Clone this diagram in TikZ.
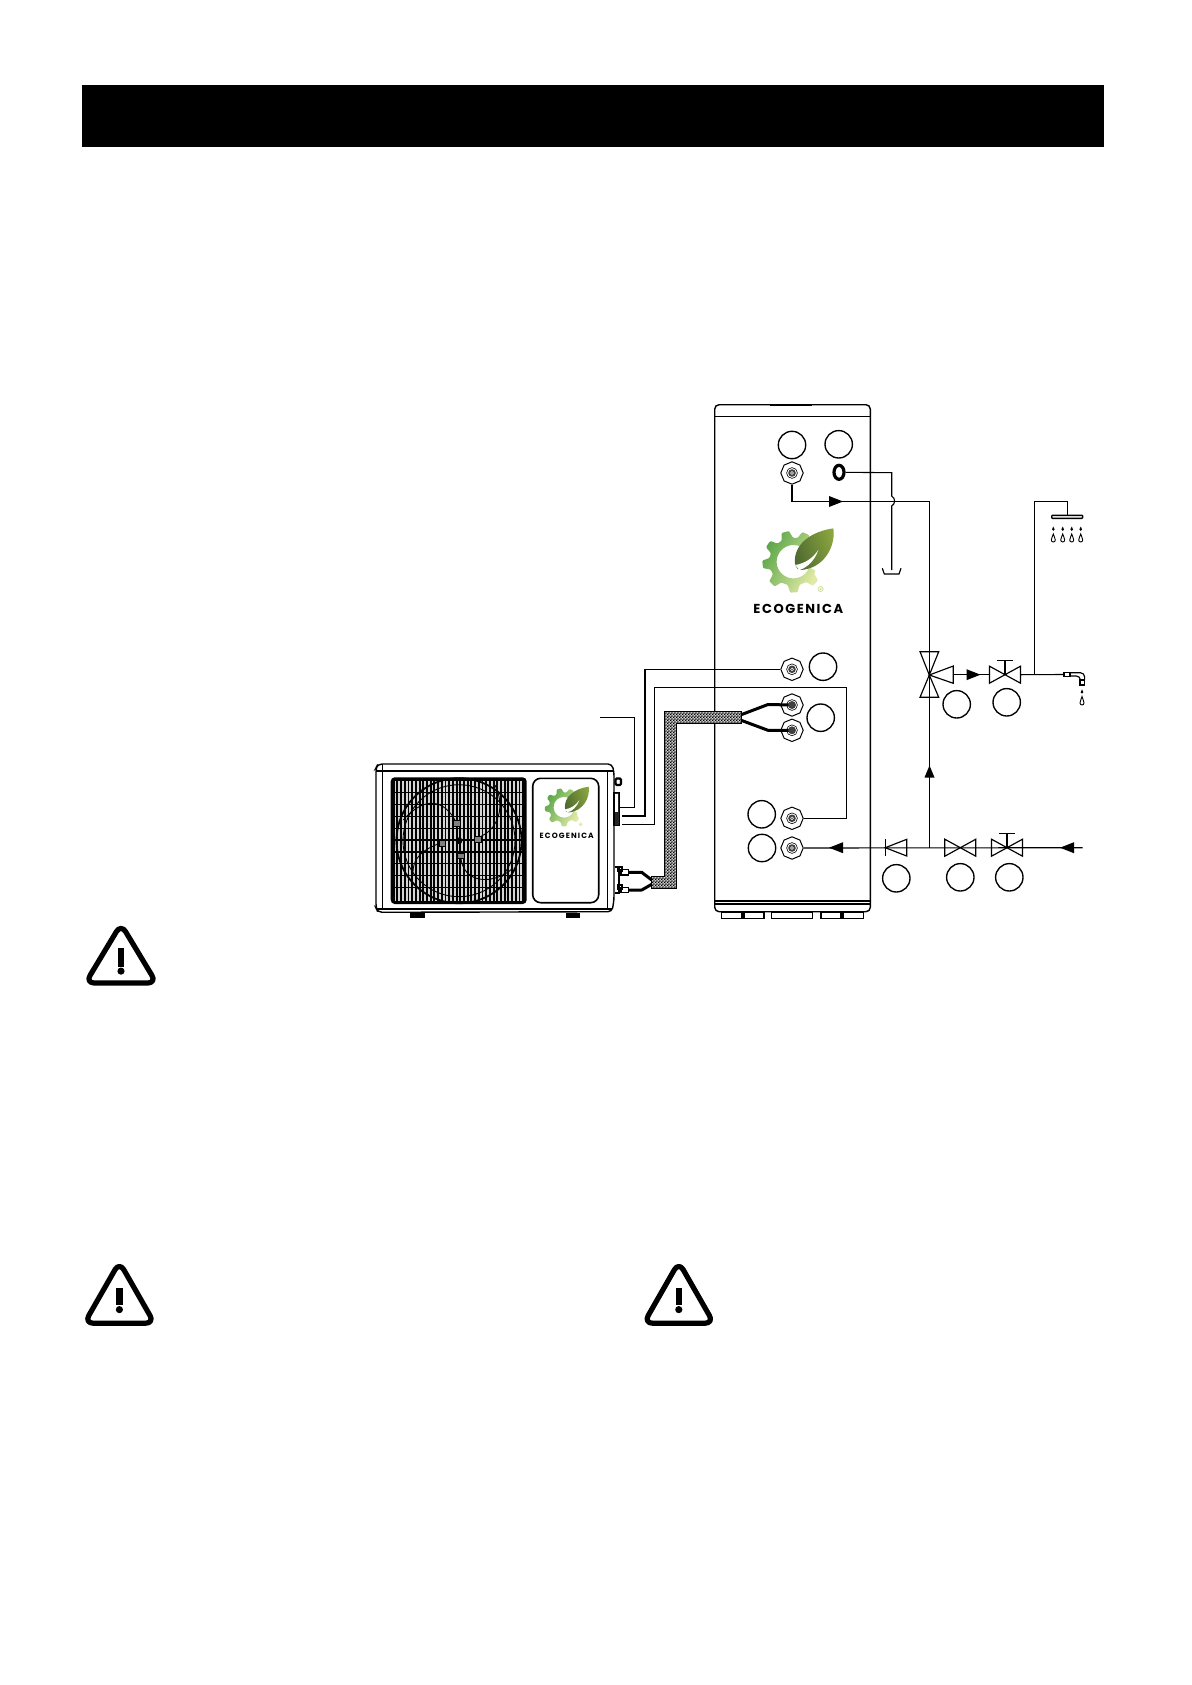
\documentclass[tikz,border=0pt]{standalone}
\usepackage{fontspec}
\setmainfont{Liberation Sans}
\newfontfamily\logofont[LetterSpace=12]{Poppins}
\newfontfamily\logofontsmall[LetterSpace=15]{Poppins}
\usetikzlibrary{shapes.geometric,patterns}
\pgfdeclarepatternformonly{finecheck}{\pgfqpoint{0pt}{0pt}}{\pgfqpoint{1.6pt}{1.6pt}}{\pgfqpoint{1.6pt}{1.6pt}}{%
  \pgfpathrectangle{\pgfqpoint{0pt}{0pt}}{\pgfqpoint{.9pt}{.9pt}}%
  \pgfpathrectangle{\pgfqpoint{.8pt}{.8pt}}{\pgfqpoint{.9pt}{.9pt}}%
  \pgfusepath{fill}}
\definecolor{gearA}{HTML}{5AA548}
\definecolor{gearB}{HTML}{E2EBA6}
\definecolor{leafA}{HTML}{4E6A30}
\definecolor{leafB}{HTML}{8AA53E}
\definecolor{slat}{HTML}{D4D4D4}
\tikzset{
  line/.style={line width=0.58pt,black},
  pipe/.style={line width=0.55pt,black,line join=miter},
  callout/.style={circle,draw=black,line width=0.68pt,minimum size=13.7pt,inner sep=0pt},
  fitting/.style={regular polygon,regular polygon sides=8,shape border rotate=22.5,draw=black,line width=0.5pt,
    minimum size=11.2pt,inner sep=0pt,fill=white,
    path picture={\fill[black!75] (path picture bounding box.center) circle (1.9pt);
      \fill[white] (path picture bounding box.center) circle (0.9pt);
      \fill[black!75] (path picture bounding box.center) circle (0.45pt);
      \draw[line width=0.3pt] (path picture bounding box.center) circle (2.7pt);}},
  hose/.style={line width=1.5pt,black,line join=round},
  flow/.style={fill=black},
}
\newcommand\arrR[2]{\fill[flow] (#1-7,#2-5.5) -- (#1+7,#2) -- (#1-7,#2+5.5) -- cycle;}
\newcommand\arrL[2]{\fill[flow] (#1+7,#2-5.5) -- (#1-7,#2) -- (#1+7,#2+5.5) -- cycle;}
\newcommand\arrU[2]{\fill[flow] (#1-5,#2+6) -- (#1,#2-6) -- (#1+5,#2+6) -- cycle;}
\newcommand\twoway[2]{\draw[line] (#1-15.5,#2-8.5) -- (#1+15.5,#2+8.5) -- (#1+15.5,#2-8.5) -- (#1-15.5,#2+8.5) -- cycle;}
\newcommand\stemT[2]{\draw[line] (#1,#2) -- (#1,#2-14) (#1-8,#2-14) -- (#1+8,#2-14);}
\newcommand\dropS[3]{% x, y top, height
  \draw[line width=0.45pt] (#1,#2) .. controls (#1+0.5,#2+#3*.3) and (#1+2,#2+#3*.5) .. (#1+2,#2+#3-2)
    arc[start angle=0,end angle=180,radius=2] .. controls (#1-2,#2+#3*.5) and (#1-.5,#2+#3*.3) .. (#1,#2) -- cycle;}
\newcommand\dropT[2]{\fill (#1,#2) .. controls (#1+.6,#2+1.5) and (#1+1.3,#2+2.2) .. (#1+1.3,#2+3) arc[start angle=0,end angle=180,radius=1.3] .. controls (#1-1.3,#2+2.2) and (#1-.6,#2+1.5) .. (#1,#2) -- cycle;}
\newcommand\warnsign[6]{% apex x, top y, half width, bottom y, exclam top, exclam bottom
  \draw[line width=2.6pt,line join=round,rounded corners=4.4pt] (#1,#2) -- (#1+#3,#4) -- (#1-#3,#4) -- cycle;
  \fill (#1-3.2,#5) rectangle (#1+3.2,#6);
  \fill (#1,#6+4.6) circle[radius=3.6];}
% logo: cx, cy, unit
\newcommand\ecologo[3]{%
\begin{scope}[shift={(#1,#2)},x=#3,y=#3]
  \shade[left color=gearA,middle color=gearA!70!gearB,right color=gearB,shading angle=60,rounded corners=0.5pt]
    (52:72) \foreach \a in {66,105,145,185,226,271,316}{ -- (\a-14:72) -- (\a-7:93) -- (\a+7:93) -- (\a+14:72) }
    -- (338:72) -- (340:50) arc[start angle=340,end angle=52,radius=50] -- cycle;
  \shade[left color=leafA,right color=leafB,shading angle=110]
    (5,-5) .. controls (0,50) and (50,90) .. (120,100) .. controls (128,50) and (95,-20) .. (22,-25)
    .. controls (15,-25) and (8,-20) .. (5,-5) -- cycle;
  \fill[white] (6,-10) .. controls (35,-5) and (58,10) .. (75,35) .. controls (65,5) and (42,-18) .. (18,-25) -- cycle;
  \fill[gearB!85!gearA] (82,-82) circle (9);
  \fill[white] (82,-82) circle (6);
  \fill[gearB!85!gearA] (82,-82) circle (3.5);
\end{scope}}
\begin{document}
\begin{tikzpicture}[x=0.5pt,y=-0.5pt]
\useasboundingbox (0,0) rectangle (1192,1685);
\fill[white] (0,0) rectangle (1192,1685);
% header bar
\fill[black] (82,85) rectangle (1104,147);

% === tank ===
\draw[line,line width=0.7pt] (714.7,900) -- (714.7,410) [rounded corners=2.2pt] -- (714.7,404.7) -- (870.3,404.7) [sharp corners] -- (870.3,410) -- (870.3,900);
\draw[line,line width=0.7pt] (714.7,416.3) -- (870.3,416.3);
\draw[line width=1.2pt] (770,404.7) -- (812,404.7);
\draw[line,line width=0.85pt] (714.7,900.7) -- (870.3,900.7);
\draw[line] (714.7,904) -- (870.3,904);
\draw[line,line width=0.7pt,rounded corners=2.2pt] (714.7,900) -- (714.7,911.7) -- (870.3,911.7) -- (870.3,900);
\draw[line,fill=white] (721.7,912.4) rectangle (764,918.3);
\draw[line] (742,912.4) -- (742,918.3) (744,912.4) -- (744,918.3);
\draw[line,fill=white] (771.7,912.4) rectangle (812.7,918.3);
\draw[line,fill=white] (821,912.4) rectangle (863.3,918.3);
\draw[line] (841,912.4) -- (841,918.3) (843,912.4) -- (843,918.3);

\ecologo{793.3}{561.7}{0.1667pt}
\node[inner sep=0pt,font=\logofont\bfseries\fontsize{6.5}{7}\selectfont] (brandA) at (798.3,608.7) {ECOGENICA};

% callouts
\node[callout] (c1) at (792,445) {};
\node[callout] (c2) at (838.7,444.3) {};
\node[callout] (c3) at (823,666.7) {};
\node[callout] (c4) at (820.7,717.7) {};
\node[callout] (c5) at (761.7,814.3) {};
\node[callout] (c6) at (762,848) {};
\node[callout] (c7) at (956.7,704.3) {};
\node[callout] (c8) at (1006.7,702.3) {};
\node[callout] (c9) at (896.3,878.3) {};
\node[callout] (c10) at (960.3,877.3) {};
\node[callout] (c11) at (1009.3,877.3) {};

% outdoor unit
\draw[line,line width=0.7pt,rounded corners=2pt] (376,768) -- (378,764) -- (612,764) -- (614,772) -- (614,900) -- (612,911.7) -- (378,912.3) -- (376,908) -- cycle;
\draw[line width=1.1pt] (376,770.7) -- (613,770.7);
\draw[line] (382.3,764) -- (382.3,908) (607.7,770) -- (607.7,908);
\draw[line] (376,909) -- (612,909);
\fill (410,913) rectangle (425,918.3);
\fill (565.7,913) rectangle (580,918.3);
\fill[rounded corners=2pt] (390.7,777.3) rectangle (526.7,904);
\foreach \sx in {395.5,399.2,...,523}{\draw[slat,line width=0.9pt] (\sx,781) -- (\sx,901);}
\foreach \sy in {792.3,804.3,816.3,828.2,840,851.8,863.5,875.5,887.7}{\draw[black,line width=0.7pt] (391,\sy) -- (526,\sy);}
\draw[line width=0.9pt,black] (459,840.7) circle (62.5);
\draw[line width=0.45pt,black] (459,840.7) circle (56);
\begin{scope}[line width=0.45pt,black]
\draw (403.3,820) .. controls (425,795) and (445,800) .. (456,822);
\draw (477,838) .. controls (500,830) and (505,805) .. (495,785);
\draw (442.7,842.3) .. controls (420,850) and (412,860) .. (413,875);
\draw (460.7,855.7) .. controls (462,885) and (495,885) .. (513,868);
\draw[fill=slat!60!black] (453,820) rectangle (460,826);
\draw[fill=slat!60!black] (474,836) rectangle (481,842);
\draw[fill=slat!60!black] (439,840) rectangle (445,846);
\draw[fill=slat!60!black] (457,853) rectangle (464,858);
\end{scope}
\fill (459,840.7) circle (3.4);
\draw[line width=0.8pt,rounded corners=4pt] (532.7,778.3) rectangle (598.7,902.7);
\ecologo{563.9}{807.3}{0.1033pt}
\node[inner sep=0pt,font=\logofontsmall\bfseries\fontsize{3.8}{4}\selectfont] (brandB) at (566.7,835.7) {ECOGENICA};

% unit side parts
\fill[black!85] (613.5,792.3) rectangle (619.5,825.7);
\fill[white] (615,794) rectangle (618,812);
\draw[line] (614,792.3) rectangle (619.5,825.7);
\draw[line width=1.1pt,rounded corners=0.6pt] (615.5,778.5) rectangle (621,785);
\draw[line width=0.9pt] (615,867) -- (619,867) -- (619,893) -- (615,893);
\draw[line width=0.8pt,fill=white] (621,869.5) rectangle (628.3,875);
\draw[line width=0.8pt,fill=white] (621,887.5) rectangle (628.3,892.5);
\draw[line width=1pt] (618,866.5) rectangle (622,871);
\draw[line width=1pt] (618,884.5) rectangle (622,889);

% connection points
\node[fitting] (f1) at (792,473) {};
\node[ellipse,draw=black,line width=1.6pt,minimum width=5pt,minimum height=7pt,inner sep=0pt] (ring) at (839,472.3) {};
\node[fitting] (f2) at (792,669.3) {};
\node[fitting] (f3) at (792,705) {};
\node[fitting] (f4) at (792,730.3) {};
\node[fitting] (f5) at (792,818.3) {};
\node[fitting] (f6) at (792,848) {};

% named points
\coordinate (mixer) at (929.5,675);
\coordinate (valveA) at (1005,674.5);
\coordinate (tee) at (929.5,847.7);
\coordinate (inlet) at (1082.7,847.7);
\coordinate (hotCorner) at (929.5,501.5);
\coordinate (sideA) at (619.3,807.3);
\coordinate (sideB) at (621.7,816);
\coordinate (sideC) at (621.7,824.3);
\coordinate (cable) at (600.3,717.3);
\coordinate (branch) at (1034.3,674.5);
\coordinate (faucet) at (1064,674.5);
\coordinate (showerTop) at (1067.3,515.3);

% wiring
\draw[pipe] (cable) -| (634.3,807.3) -- (sideA);
\draw[pipe] (f2.west) -| (645,816) -- (sideB);
\draw[pipe] (f5.east) -| (846.3,687.7) -| (654.3,824.3) -- (sideC);

% hose band
\fill[black!20] (741.7,711.7) -- (664.3,711.7) -- (664.3,876) -- (651,876) -- (651,888.3) -- (676.7,888.3) -- (676.7,723.3) -- (741.7,723.3) -- cycle;
\fill[pattern=finecheck,pattern color=black] (741.7,711.7) -- (664.3,711.7) -- (664.3,876) -- (651,876) -- (651,888.3) -- (676.7,888.3) -- (676.7,723.3) -- (741.7,723.3) -- cycle;
\draw[line,line width=0.45pt] (741.7,711.7) -- (664.3,711.7) -- (664.3,876) -- (651,876) -- (651,888.3) -- (676.7,888.3) -- (676.7,723.3) -- (741.7,723.3) -- cycle;
\draw[hose] (741.7,714.5) -- (768,704.5) -- (f3.center);
\draw[hose] (741.7,720.5) -- (768,730.3) -- (f4.center);
\draw[hose] (651.7,880) -- (641.7,872.3) -- (628.3,872.3);
\draw[hose] (651.7,884.3) -- (641.7,890) -- (628.3,890);
\fill[black!75] (792,705) circle (1.9pt);
\fill[black!75] (792,730.3) circle (1.9pt);

% hot water
\draw[pipe] (f1.south) |- (hotCorner) -- (mixer);
\arrR{836}{501.5}
% drain
\draw[pipe] (ring.east) -- (891.7,472.7) -- (891.7,496) .. controls (895.5,498) and (895.5,504) .. (891.7,506) -- (891.7,570);
\draw[line] (882.3,568.3) -- (884.3,574) -- (899,574) -- (901,568.3);

% mixer
\draw[line] (920,651.7) -- (938.7,651.7) -- (929.3,675) -- cycle;
\draw[line] (920,697.3) -- (938.7,697.3) -- (929.3,675) -- cycle;
\draw[line] (929.3,675) -- (953.3,666) -- (953.3,683.3) -- cycle;
\draw[pipe] (953.3,674.7) -- (989,674.7);
\arrR{973.5}{674.7}
\twoway{1005}{674.7}
\stemT{1005}{674.7}
\draw[pipe] (1020.7,674.7) -- (faucet);
\draw[pipe] (branch) |- (1067.3,501.5) -- (showerTop);
\draw[line,fill=white,rounded corners=0.4pt,line width=0.7pt] (1051.7,515.3) rectangle (1082.7,518.3);
\foreach \dx in {1053.3,1062.7,1071.7,1080.7}{\dropT{\dx}{526.5}\dropS{\dx}{534}{8}}
% faucet
\draw[line,fill=white] (1064,672.3) rectangle (1070,676.7);
\draw[line,rounded corners=2pt] (1070,672.8) -- (1084.6,672.8) -- (1084.6,680);
\draw[line,rounded corners=2pt] (1070,676) -- (1080.4,676) -- (1080.4,680);
\draw[line,fill=white] (1080,680) rectangle (1084.8,685);
\dropT{1082}{689.3}\dropS{1082}{696.5}{8.5}

% cold water
\draw[pipe] (f6.east) -- (inlet);
\arrL{836}{847.7}
\arrL{1067}{847.7}
\draw[pipe] (tee) -- (mixer);
\arrU{929.5}{771.5}
\draw[line] (885.3,839.3) -- (885.3,856);
\draw[line] (885.3,847.7) -- (906.7,839.3) -- (906.7,856) -- cycle;
\twoway{960.3}{847.7}
\twoway{1007}{847.7}
\stemT{1007}{847.7}

% warning signs
\warnsign{121}{924}{35.5}{983}{947.7}{966.5}
\warnsign{119.4}{1262}{35}{1323.2}{1287.7}{1305}
\warnsign{678.8}{1262}{35}{1323.2}{1287.7}{1305}
\end{tikzpicture}
\end{document}
